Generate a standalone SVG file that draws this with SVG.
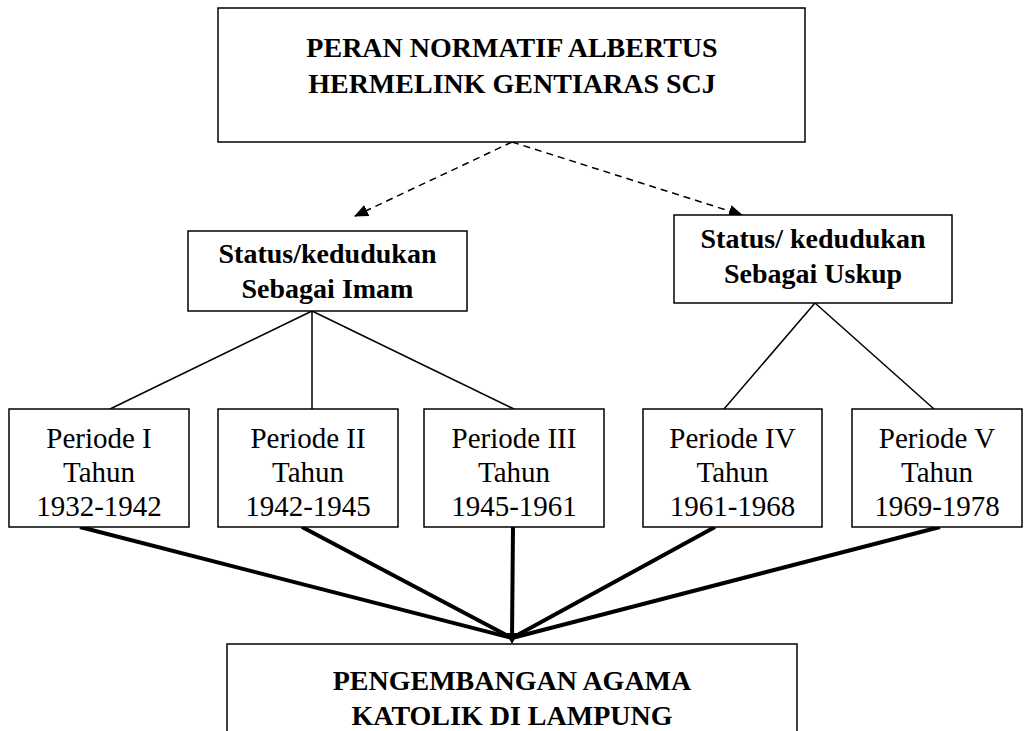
<svg xmlns="http://www.w3.org/2000/svg" width="1026" height="731" viewBox="0 0 1026 731">
<style>
.box{fill:#fff;stroke:#000;stroke-width:1.5}
.b{font-family:'Liberation Serif','Tinos','Times New Roman','DejaVu Serif',serif;font-weight:bold;font-size:28px;text-anchor:middle;fill:#000}
.r{font-family:'Liberation Serif','Tinos','Times New Roman','DejaVu Serif',serif;font-size:29px;text-anchor:middle;fill:#000}
.thin{stroke:#000;stroke-width:1.5;fill:none}
.dash{stroke:#000;stroke-width:1.5;fill:none;stroke-dasharray:7,5}
.thick{stroke:#000;stroke-width:4;fill:none}
</style>
<defs>
<marker id="ah" markerUnits="userSpaceOnUse" markerWidth="14" markerHeight="12" refX="13" refY="6" orient="auto">
<path d="M0,0 L14,6 L0,12 Z" fill="#000"/>
</marker>
</defs>
<rect width="1026" height="731" fill="#fff"/>
<g id="connectors">
<line class="dash" x1="512" y1="142" x2="355" y2="216" marker-end="url(#ah)"/>
<line class="dash" x1="512" y1="142" x2="742" y2="215" marker-end="url(#ah)"/>
<line class="thin" x1="312" y1="311" x2="110" y2="409"/>
<line class="thin" x1="312" y1="311" x2="312" y2="409"/>
<line class="thin" x1="312" y1="311" x2="514" y2="409"/>
<line class="thin" x1="815" y1="303" x2="724" y2="409"/>
<line class="thin" x1="815" y1="303" x2="934" y2="409"/>
<line class="thick" x1="80" y1="527" x2="512" y2="638"/>
<line class="thick" x1="302" y1="527" x2="512" y2="638"/>
<line class="thick" x1="513" y1="527" x2="512" y2="638"/>
<line class="thick" x1="715" y1="527" x2="512" y2="638"/>
<line class="thick" x1="940" y1="527" x2="512" y2="638"/>
<path d="M506,633 L518,633 L512,644 Z" fill="#000"/>
</g>
<g id="node-top">
<rect class="box" x="218" y="8" width="587" height="134"/>
<text class="b" x="512" y="57">PERAN NORMATIF ALBERTUS</text>
<text class="b" x="512" y="93">HERMELINK GENTIARAS SCJ</text>
</g>
<g id="node-imam">
<rect class="box" x="188" y="231" width="279" height="80"/>
<text class="b" x="327.5" y="263">Status/kedudukan</text>
<text class="b" x="327.5" y="298">Sebagai Imam</text>
</g>
<g id="node-uskup">
<rect class="box" x="674" y="215" width="278" height="88"/>
<text class="b" x="813" y="248">Status/ kedudukan</text>
<text class="b" x="813" y="283">Sebagai Uskup</text>
</g>
<g id="node-p1">
<rect class="box" x="9" y="409" width="180" height="118"/>
<text class="r" x="99" y="448">Periode I</text>
<text class="r" x="99" y="482">Tahun</text>
<text class="r" x="99" y="516">1932-1942</text>
</g>
<g id="node-p2">
<rect class="box" x="218" y="409" width="180" height="118"/>
<text class="r" x="308" y="448">Periode II</text>
<text class="r" x="308" y="482">Tahun</text>
<text class="r" x="308" y="516">1942-1945</text>
</g>
<g id="node-p3">
<rect class="box" x="424" y="409" width="180" height="118"/>
<text class="r" x="514" y="448">Periode III</text>
<text class="r" x="514" y="482">Tahun</text>
<text class="r" x="514" y="516">1945-1961</text>
</g>
<g id="node-p4">
<rect class="box" x="643" y="409" width="179" height="118"/>
<text class="r" x="732.5" y="448">Periode IV</text>
<text class="r" x="732.5" y="482">Tahun</text>
<text class="r" x="732.5" y="516">1961-1968</text>
</g>
<g id="node-p5">
<rect class="box" x="852" y="409" width="170" height="118"/>
<text class="r" x="937" y="448">Periode V</text>
<text class="r" x="937" y="482">Tahun</text>
<text class="r" x="937" y="516">1969-1978</text>
</g>
<g id="node-bottom">
<rect class="box" x="227" y="644" width="570" height="100"/>
<text class="b" x="512" y="690">PENGEMBANGAN AGAMA</text>
<text class="b" x="512" y="725">KATOLIK DI LAMPUNG</text>
</g>
</svg>
